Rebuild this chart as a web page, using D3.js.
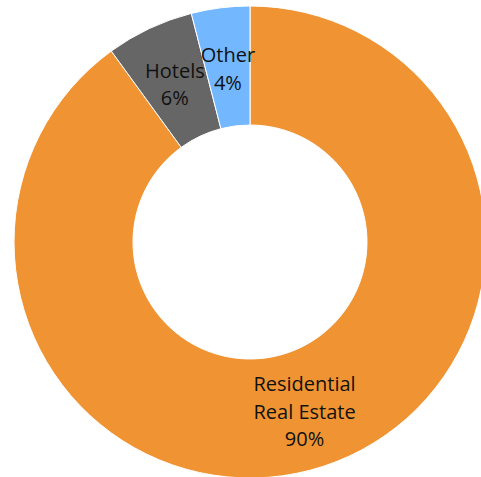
<!DOCTYPE html>
<html>
<head>
<meta charset="utf-8">
<script src="https://cdn.jsdelivr.net/npm/d3@7"></script>
<style>
  body { margin: 0; background: #fff; }
</style>
</head>
<body>
<div id="chart"></div>
<script>
// slice data, clockwise from 12 o'clock
var categories = ["Residential Real Estate", "Hotels", "Other"];
var labelLines = [["Residential", "Real Estate"], ["Hotels"], ["Other"]];
var values = [90, 6, 4];
var colors = ["#F09433", "#666666", "#73B7FF"];

(function () {
    var width = 481,
        height = 477,
        cx = 250,
        cy = 242,
        outerR = 236,
        innerR = 117;

    var data = categories.map(function (c, i) {
        return { name: c, lines: labelLines[i], value: values[i], color: colors[i] };
    });

    var svg = d3.select("#chart").append("svg")
        .attr("width", width)
        .attr("height", height)
        .append("g")
        .attr("transform", "translate(" + cx + "," + cy + ")");

    var pie = d3.pie().sort(null).value(function (d) { return d.value; });
    var arc = d3.arc().innerRadius(innerR).outerRadius(outerR);

    var arcs = pie(data);

    svg.selectAll(".slice")
        .data(arcs)
        .enter().append("path")
        .attr("class", "slice")
        .attr("d", arc)
        .attr("fill", function (d) { return d.data.color; })
        .attr("stroke", "#fff")
        .attr("stroke-width", 1);

    var lineH = 27.5;

    //labels at the arc centroid, name lines then percent
    var labels = svg.selectAll(".label")
        .data(arcs)
        .enter().append("text")
        .attr("class", "label")
        .attr("transform", function (d) {
            var c = arc.centroid(d);
            return "translate(" + c[0] + "," + (c[1] + 2) + ")";
        })
        .attr("text-anchor", "middle")
        .style("font-family", "'Open Sans', sans-serif")
        .style("font-size", "20px")
        .style("fill", "#111");

    labels.each(function (d) {
        var lines = d.data.lines.concat([d.data.value + "%"]);
        var n = lines.length;
        var t = d3.select(this);
        lines.forEach(function (l, i) {
            t.append("tspan")
                .attr("x", 0)
                .attr("y", (i - (n - 1) / 2) * lineH)
                .attr("dy", "0.35em")
                .text(l);
        });
    });
})();
</script>
</body>
</html>
